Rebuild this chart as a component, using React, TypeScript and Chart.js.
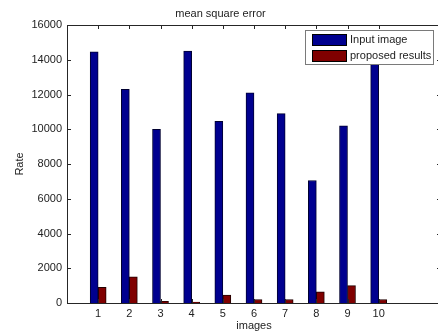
import { useEffect, useRef } from 'react';
import { Chart, registerables } from 'chart.js';

Chart.register(...registerables);

const categories = [1, 2, 3, 4, 5, 6, 7, 8, 9, 10];
const inputImage = [14450, 12300, 10000, 14500, 10450, 12100, 10900, 7050, 10200, 14200];
const proposedResults = [900, 1500, 100, 50, 450, 200, 200, 650, 1000, 200];
const yTicks = [0, 2000, 4000, 6000, 8000, 10000, 12000, 14000, 16000];
const seriesLabels = ['Input image', 'proposed results'];
const chartTitle = 'mean square error';
const xTitle = 'images';
const yTitle = 'Rate';

const FONT = '"Liberation Sans", Arial, sans-serif';
const AXIS = '#262626';
const TEXT = '#222222';

const boxPlugin = {
  id: 'matlabBox',
  afterDraw(chart: any) {
    const { ctx, chartArea: a, scales } = chart;
    const xs = scales.x;
    const ys = scales.y;
    ctx.save();
    ctx.strokeStyle = AXIS;
    ctx.lineWidth = 1;
    // inward ticks
    ctx.beginPath();
    const tl = 4;
    for (const t of xs.ticks) {
      const px = Math.round(xs.getPixelForValue(t.value)) + 0.5;
      ctx.moveTo(px, a.bottom);
      ctx.lineTo(px, a.bottom - tl);
      ctx.moveTo(px, a.top);
      ctx.lineTo(px, a.top + tl);
    }
    for (const t of ys.ticks) {
      const py = Math.round(ys.getPixelForValue(t.value)) + 0.5;
      ctx.moveTo(a.left, py);
      ctx.lineTo(a.left + tl, py);
      ctx.moveTo(a.right, py);
      ctx.lineTo(a.right - tl, py);
    }
    ctx.stroke();
    // box
    ctx.strokeRect(Math.round(a.left) + 0.5, Math.round(a.top) + 0.5, Math.round(a.right - a.left), Math.round(a.bottom - a.top));

    // legend
    const lx = 305, ly = 30, lw = 128, lh = 34;
    ctx.fillStyle = '#ffffff';
    ctx.fillRect(lx, ly, lw, lh);
    ctx.strokeStyle = '#7a7a7a';
    ctx.strokeRect(lx + 0.5, ly + 0.5, lw, lh);
    ctx.font = `11px ${FONT}`;
    ctx.textBaseline = 'middle';
    chart.data.datasets.forEach((ds: any, i: number) => {
      const sy = ly + 4 + i * 16;
      ctx.fillStyle = ds.backgroundColor;
      ctx.fillRect(lx + 7, sy, 34, 11);
      ctx.strokeStyle = '#000';
      ctx.strokeRect(lx + 7.5, sy + 0.5, 34, 11);
      ctx.fillStyle = TEXT;
      ctx.fillText(ds.label, lx + 45, sy + 6);
    });
    ctx.restore();
  },
};

export default function App() {
  const ref = useRef<HTMLCanvasElement>(null);
  useEffect(() => {
    document.body.style.margin = '0';
    const chart = new Chart(ref.current as HTMLCanvasElement, {
      type: 'bar',
      data: {
        datasets: [
          {
            label: seriesLabels[0],
            data: categories.map((c, i) => ({ x: c, y: inputImage[i] })),
            backgroundColor: '#00008f',
            borderColor: '#000030',
            borderWidth: 1,
            barThickness: 8,
          },
          {
            label: seriesLabels[1],
            data: categories.map((c, i) => ({ x: c, y: proposedResults[i] })),
            backgroundColor: '#800000',
            borderColor: '#200000',
            borderWidth: 1,
            barThickness: 8,
          },
        ],
      } as any,
      options: {
        animation: false,
        responsive: false,
        layout: { padding: { left: 0, right: 4, top: 0, bottom: 0 } },
        plugins: {
          legend: { display: false },
          tooltip: { enabled: false },
          title: {
            display: true,
            text: chartTitle,
            color: TEXT,
            font: { family: FONT, size: 11, weight: 'normal' },
            padding: { top: 7.4, bottom: 4.4 },
          },
        },
        scales: {
          x: {
            type: 'linear',
            min: 0,
            max: 12,
            offset: false,
            grid: { display: false, drawTicks: false },
            border: { display: true, color: AXIS },
            afterBuildTicks: (s: any) => {
              s.ticks = categories.map((v) => ({ value: v }));
            },
            ticks: {
              color: TEXT,
              font: { family: FONT, size: 11 },
              padding: 4,
              maxRotation: 0,
              autoSkip: false,
              callback: (v: any) => String(v),
            },
            title: {
              display: true,
              text: xTitle,
              color: TEXT,
              font: { family: FONT, size: 11 },
              padding: { top: 0, bottom: 2 },
            },
            afterFit: (s: any) => {
              s.height = 32;
              s.paddingLeft = 0;
              s.paddingRight = 0;
            },
          },
          y: {
            type: 'linear',
            min: 0,
            max: 16000,
            grid: { display: false, drawTicks: false },
            border: { display: true, color: AXIS },
            afterBuildTicks: (s: any) => {
              s.ticks = yTicks.map((v) => ({ value: v }));
            },
            ticks: {
              color: TEXT,
              font: { family: FONT, size: 11 },
              padding: 5,
              callback: (v: any) => String(v),
            },
            title: {
              display: true,
              text: yTitle,
              color: TEXT,
              font: { family: FONT, size: 11 },
              padding: { top: 13, bottom: 0 },
            },
            afterFit: (s: any) => {
              s.width = 67;
              s.paddingTop = 0;
              s.paddingBottom = 0;
            },
          },
        },
      } as any,
      plugins: [boxPlugin],
    });
    return () => chart.destroy();
  }, []);
  return (
    <div style={{ width: 438, height: 335, overflow: 'hidden', background: '#fff' }}>
      <canvas ref={ref} width={445} height={335} style={{ display: 'block' }} />
    </div>
  );
}
